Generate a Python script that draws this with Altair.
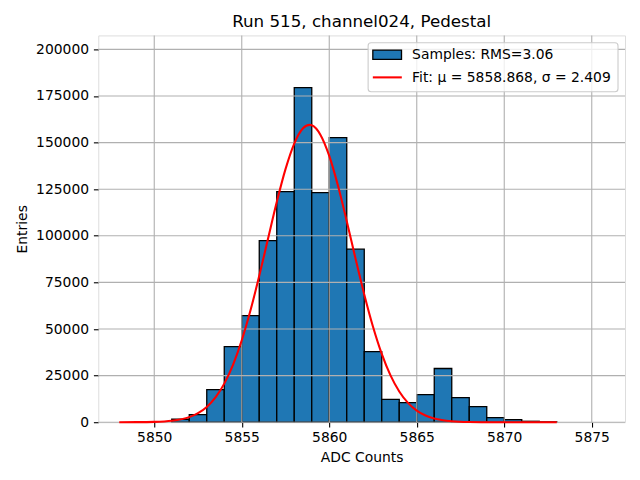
import altair as alt
import pandas as pd

# Histogram bins (left edges) and counts
bin_left = [5851, 5852, 5853, 5854, 5855, 5856, 5857, 5858, 5859, 5860, 5861,
            5862, 5863, 5864, 5865, 5866, 5867, 5868, 5869, 5870, 5871, 5872]
counts = [1600, 4100, 17500, 40600, 57200, 97400, 123700, 179500, 123200, 152700, 92800,
          37900, 12200, 10500, 14800, 28800, 13200, 8400, 2500, 1400, 500, 250]

# Fit curve samples
fit_x = [5848, 5849, 5850, 5851, 5852, 5852.5, 5853, 5853.5, 5854, 5854.5, 5855, 5855.5,
         5856, 5856.5, 5857, 5857.5, 5858, 5858.5, 5858.87, 5859, 5859.5, 5860, 5860.5,
         5861, 5861.5, 5862, 5862.5, 5863, 5863.5, 5864, 5864.5, 5865, 5865.5, 5866,
         5867, 5868, 5869, 5870, 5871, 5872, 5873]
fit_y = [6, 36, 180, 770, 2740, 4850, 8210, 13300, 20700, 30800, 43960, 60040,
         78520, 98380, 118080, 135750, 149480, 157650, 159500, 159260, 154110, 142830, 126790,
         107820, 87800, 68500, 51190, 36630, 25120, 16500, 10370, 6250, 3600, 1990,
         535, 121, 23, 3, 0, 0, 0]

x_ticks = [5850, 5855, 5860, 5865, 5870, 5875]
y_ticks = [0, 25000, 50000, 75000, 100000, 125000, 150000, 175000, 200000]

title_text = "Run 515, channel024, Pedestal"
x_title = "ADC Counts"
y_title = "Entries"
label_samples = "Samples: RMS=3.06"
label_fit = "Fit: μ = 5858.868, σ = 2.409"

FONT = "DejaVu Sans"
W, H = 527, 387

bars_df = pd.DataFrame({"x": bin_left, "x2": [b + 1 for b in bin_left], "y": counts})
fit_df = pd.DataFrame({"x": fit_x, "y": fit_y})
xgrid_df = pd.DataFrame({"x": x_ticks})
ygrid_df = pd.DataFrame({"y": y_ticks})
one = pd.DataFrame({"k": [0]})

xscale = alt.Scale(domain=[5846.8, 5876.9], nice=False, zero=False)
yscale = alt.Scale(domain=[0, 207500], nice=False, zero=False)

common_axis = dict(grid=False, domain=False, ticks=True, tickSize=4.86, tickWidth=1.1,
                   tickColor="black", labelFont=FONT, labelFontSize=13.9, labelColor="black",
                   titleFont=FONT, titleFontSize=13.9, titleFontWeight="normal",
                   titleColor="black")
xaxis = alt.Axis(values=x_ticks, title=x_title, labelBaseline="alphabetic", labelPadding=14.8,
                 titleX=W / 2, titleY=39.4, titleBaseline="alphabetic", titleAlign="center",
                 format="d", **common_axis)
yaxis = alt.Axis(values=y_ticks, title=y_title, labelPadding=4.86, format="d",
                 titleX=-71.6, titleY=H / 2, titleAngle=270, titleBaseline="alphabetic",
                 titleAlign="center", **common_axis)

X = lambda: alt.X("x:Q", scale=xscale, axis=xaxis)
Y = lambda: alt.Y("y:Q", scale=yscale, axis=yaxis)

bars = alt.Chart(bars_df).mark_bar(
    color="#1f77b4", stroke="black", strokeWidth=1.3, opacity=1
).encode(x=X(), x2="x2:Q", y=Y(), y2=alt.datum(0))

xgrid = alt.Chart(xgrid_df).mark_rule(color="#b0b0b0", strokeWidth=1.1).encode(x=X())
ygrid = alt.Chart(ygrid_df).mark_rule(color="#b0b0b0", strokeWidth=1.1).encode(y=Y())

fit = alt.Chart(fit_df).mark_line(color="red", strokeWidth=2.08, interpolate="monotone").encode(
    x=X(), y=Y())

# title drawn as a text mark above the plot area
title = alt.Chart(one).mark_text(
    font=FONT, fontSize=16.7, color="black", align="center", baseline="alphabetic"
).encode(x=alt.value(W / 2), y=alt.value(-8.6), text=alt.value(title_text))

# legend
leg_box = alt.Chart(one).mark_rect(
    fill="white", fillOpacity=0.8, stroke="#cccccc", strokeWidth=1.1, cornerRadius=3
).encode(x=alt.value(270), x2=alt.value(520), y=alt.value(7.4), y2=alt.value(56.4))
leg_patch = alt.Chart(one).mark_rect(
    fill="#1f77b4", stroke="black", strokeWidth=1.3
).encode(x=alt.value(274.7), x2=alt.value(303.4), y=alt.value(14.7), y2=alt.value(24))
leg_line = alt.Chart(one).mark_rule(color="red", strokeWidth=2.08).encode(
    x=alt.value(274.7), x2=alt.value(303.7), y=alt.value(42))
leg_t1 = alt.Chart(one).mark_text(
    font=FONT, fontSize=13.9, color="black", align="left", baseline="alphabetic"
).encode(x=alt.value(314), y=alt.value(24), text=alt.value(label_samples))
leg_t2 = alt.Chart(one).mark_text(
    font=FONT, fontSize=13.9, color="black", align="left", baseline="alphabetic"
).encode(x=alt.value(314), y=alt.value(47), text=alt.value(label_fit))

chart = alt.layer(
    bars, xgrid, ygrid, fit, title, leg_box, leg_patch, leg_line, leg_t1, leg_t2
).properties(
    width=W, height=H,
    autosize=alt.AutoSizeParams(type="none"),
    padding={"left": 90.3, "top": 27.3, "right": 7, "bottom": 50},
).configure_view(stroke="black", strokeWidth=1.1).configure(background="white")

chart.save("out.html", embed_options={"renderer": "svg", "actions": False})
